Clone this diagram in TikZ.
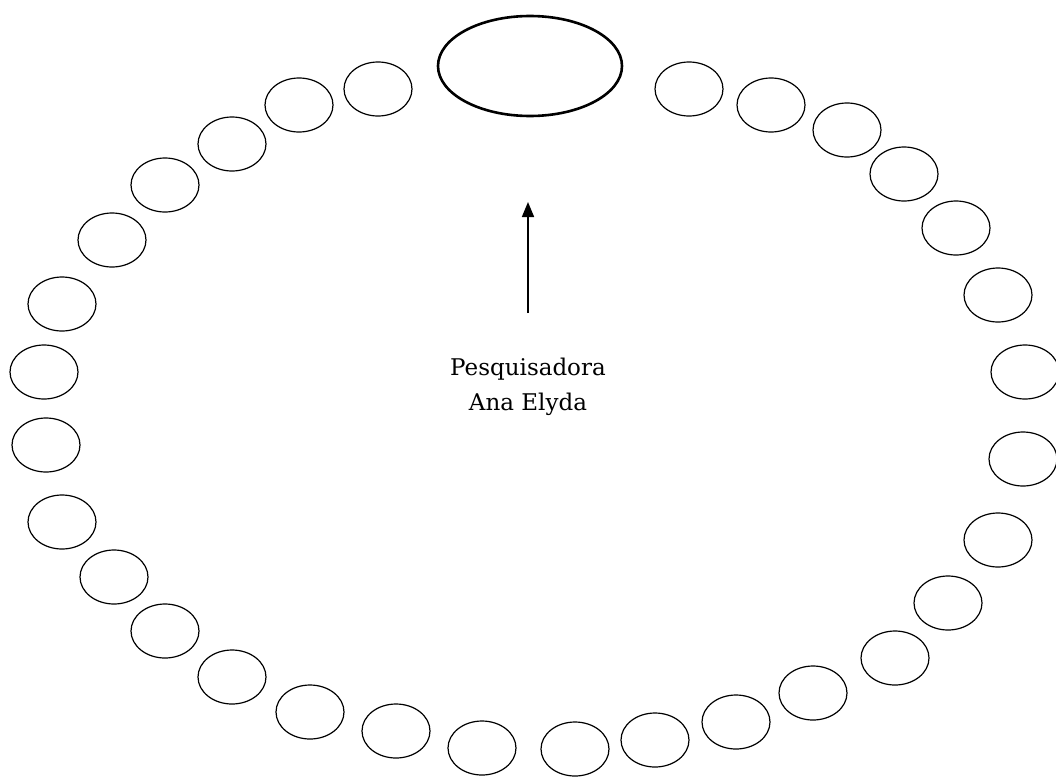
\documentclass[tikz,border=0pt]{standalone}
\usepackage{fontspec}
\setmainfont{DejaVu Serif}
\usepackage{tikz}
\usetikzlibrary{arrows.meta, positioning}
\usetikzlibrary{shapes}

\begin{document}
\begin{tikzpicture}[x=1pt, y=-1pt,
  seat/.style={draw, ellipse, line width=1.2pt, minimum width=68pt, minimum height=54pt, inner sep=0pt},
  chair/.style={draw, ellipse, line width=2.6pt, minimum width=184pt, minimum height=100pt, inner sep=0pt}]
  \useasboundingbox (0,0) rectangle (1056,776);

  % researcher
  \node[chair] (r) at (530,66) {};

  % left half of the circle
  \node[seat] (l1)  at (378,89)  {};
  \node[seat] (l2)  at (299,105) {};
  \node[seat] (l3)  at (232,144) {};
  \node[seat] (l4)  at (165,185) {};
  \node[seat] (l5)  at (112,240) {};
  \node[seat] (l6)  at (62,304)  {};
  \node[seat] (l7)  at (44,372)  {};
  \node[seat] (l8)  at (46,445)  {};
  \node[seat] (l9)  at (62,522)  {};
  \node[seat] (l10) at (114,577) {};
  \node[seat] (l11) at (165,631) {};
  \node[seat] (l12) at (232,677) {};
  \node[seat] (l13) at (310,712) {};
  \node[seat] (l14) at (396,731) {};
  \node[seat] (l15) at (482,748) {};

  % right half of the circle
  \node[seat] (r1)  at (689,89)  {};
  \node[seat] (r2)  at (771,105) {};
  \node[seat] (r3)  at (847,130) {};
  \node[seat] (r4)  at (904,174) {};
  \node[seat] (r5)  at (956,228) {};
  \node[seat] (r6)  at (998,295) {};
  \node[seat] (r7)  at (1025,372) {};
  \node[seat] (r8)  at (1023,459) {};
  \node[seat] (r9)  at (998,540) {};
  \node[seat] (r10) at (948,603) {};
  \node[seat] (r11) at (895,658) {};
  \node[seat] (r12) at (813,693) {};
  \node[seat] (r13) at (736,722) {};
  \node[seat] (r14) at (655,740) {};
  \node[seat] (r15) at (575,749) {};

  \node[align=center, font=\fontsize{23}{35}\selectfont] (name) at (528,387) {Pesquisadora\\Ana Elyda};

  \coordinate (tail) at (528,313);
  \coordinate (tip)  at (528,202);
  \draw[line width=1.6pt, -{Triangle[length=15pt, width=12pt]}] (tail) -- (tip);
\end{tikzpicture}
\end{document}
